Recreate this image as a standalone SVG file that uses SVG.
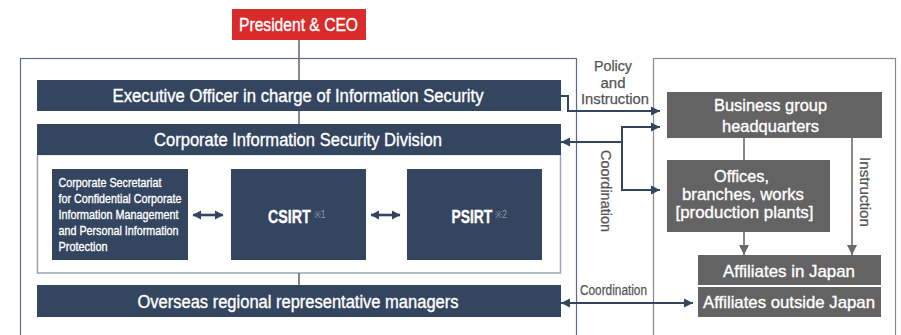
<svg xmlns="http://www.w3.org/2000/svg" width="901" height="335" viewBox="0 0 901 335">
<style>
text{font-family:"Liberation Sans Narrow","Liberation Sans",Arial,sans-serif;}
.w{fill:#ffffff;stroke:#ffffff;stroke-width:0.35;}
.g{fill:#555555;stroke:#555555;stroke-width:0.25;}
.sup{fill:#8f99ad;}
.navy{fill:#34455f;}
.grey{fill:#636363;}
.c{text-anchor:middle;}
.ln{fill:none;stroke:#34455f;stroke-width:2;}
.gl{fill:none;stroke:#6b6b6b;stroke-width:1.6;}
.dbl{fill:none;stroke:#34455f;stroke-width:2.6;}
</style>
<defs>
<marker id="an" markerUnits="userSpaceOnUse" markerWidth="10" markerHeight="10" refX="9" refY="5" orient="auto-start-reverse" viewBox="0 0 10 10"><path d="M0,0.5 L9,5 L0,9.5 z" fill="#34455f"/></marker>
<marker id="ag" markerUnits="userSpaceOnUse" markerWidth="11" markerHeight="11" refX="10" refY="5.5" orient="auto" viewBox="0 0 11 11"><path d="M0,0.5 L10,5.5 L0,10.5 z" fill="#6b6b6b"/></marker>
<marker id="ad" markerUnits="userSpaceOnUse" markerWidth="9" markerHeight="10" refX="8" refY="5" orient="auto-start-reverse" viewBox="0 0 9 10"><path d="M0,0.5 L8.5,5 L0,9.5 z" fill="#34455f"/></marker>
</defs>

<!-- frames -->
<rect x="20.5" y="58.5" width="556" height="290" fill="none" stroke="#5b6b88" stroke-width="1.2"/>
<rect x="653.5" y="58.5" width="242" height="290" fill="none" stroke="#8a8a8a" stroke-width="1.2"/>
<rect x="37.5" y="154.5" width="523" height="118.5" fill="#ffffff" stroke="#9aa5b5" stroke-width="1.5"/>

<!-- connectors -->
<g id="connectors">
<path class="gl" d="M299,40 V80"/>
<path class="gl" d="M299,111 V124"/>
<path class="gl" d="M299,273 V285"/>
<path class="ln" d="M561,96 H568 V111 H660" marker-end="url(#an)"/>
<path class="ln" d="M660,127 H622 V190 H660" marker-start="url(#an)" marker-end="url(#an)"/>
<path class="ln" d="M622,142 H561" marker-end="url(#an)"/>
<path class="ln" d="M561,303 H693" marker-start="url(#an)" marker-end="url(#an)"/>
<path class="dbl" d="M193,215 H223" marker-start="url(#ad)" marker-end="url(#ad)"/>
<path class="dbl" d="M371,215 H400" marker-start="url(#ad)" marker-end="url(#ad)"/>
<path class="gl" d="M744,138 V160"/>
<path class="gl" d="M744,232 V255" marker-end="url(#ag)"/>
<path class="gl" d="M852,138 V255" marker-end="url(#ag)"/>
<text class="g c" x="613" y="70.5" font-size="14" textLength="38" lengthAdjust="spacingAndGlyphs">Policy</text>
<text class="g c" x="613" y="87.5" font-size="14" textLength="25" lengthAdjust="spacingAndGlyphs">and</text>
<text class="g c" x="615" y="104" font-size="14" textLength="68" lengthAdjust="spacingAndGlyphs">Instruction</text>
<text class="g" transform="translate(601,150) rotate(90)" font-size="15" textLength="82" lengthAdjust="spacingAndGlyphs">Coordination</text>
<text class="g" transform="translate(860,157) rotate(90)" font-size="14" textLength="70" lengthAdjust="spacingAndGlyphs">Instruction</text>
<text class="g" x="580" y="295" font-size="14" textLength="67" lengthAdjust="spacingAndGlyphs">Coordination</text>
</g>

<g id="president">
<rect x="232" y="9" width="134" height="31" fill="#d92b2b"/>
<text class="w c" x="298.5" y="31" font-size="18" textLength="119" lengthAdjust="spacingAndGlyphs">President &amp; CEO</text>
</g>

<g id="exec">
<rect class="navy" x="37" y="80" width="524" height="31"/>
<text class="w c" x="298" y="102" font-size="18" textLength="371" lengthAdjust="spacingAndGlyphs">Executive Officer in charge of Information Security</text>
</g>

<g id="division">
<rect class="navy" x="37" y="124" width="524" height="31"/>
<text class="w c" x="298" y="146" font-size="18" textLength="288" lengthAdjust="spacingAndGlyphs">Corporate Information Security Division</text>
</g>

<g id="secretariat">
<rect class="navy" x="52" y="169" width="136" height="91"/>
<text class="w" font-size="13.5">
<tspan x="58.5" y="186.5" textLength="103" lengthAdjust="spacingAndGlyphs">Corporate Secretariat</tspan>
<tspan x="58.5" y="202.5" textLength="123" lengthAdjust="spacingAndGlyphs">for Confidential Corporate</tspan>
<tspan x="58.5" y="218.5" textLength="120" lengthAdjust="spacingAndGlyphs">Information Management</tspan>
<tspan x="58.5" y="234.5" textLength="120" lengthAdjust="spacingAndGlyphs">and Personal Information</tspan>
<tspan x="58.5" y="250.5" textLength="49" lengthAdjust="spacingAndGlyphs">Protection</tspan>
</text>
</g>

<g id="csirt">
<rect class="navy" x="231" y="169" width="135" height="91"/>
<text class="w" transform="translate(268,223) scale(0.79,1)" font-size="18" font-weight="bold">CSIRT</text>
<text class="sup" transform="translate(313.5,218) scale(0.85,1)" font-size="10">※1</text>
</g>

<g id="psirt">
<rect class="navy" x="407" y="169" width="135" height="91"/>
<text class="w" transform="translate(451.5,223) scale(0.77,1)" font-size="18" font-weight="bold">PSIRT</text>
<text class="sup" transform="translate(495,218) scale(0.85,1)" font-size="10">※2</text>
</g>

<g id="overseas">
<rect class="navy" x="37" y="285" width="524" height="32"/>
<text class="w c" x="298" y="307.5" font-size="18" textLength="321" lengthAdjust="spacingAndGlyphs">Overseas regional representative managers</text>
</g>

<g id="bghq">
<rect class="grey" x="667" y="92" width="215" height="46"/>
<text class="w c" x="770.5" y="110.5" font-size="17" textLength="113" lengthAdjust="spacingAndGlyphs">Business group</text>
<text class="w c" x="770.5" y="132" font-size="17" textLength="97" lengthAdjust="spacingAndGlyphs">headquarters</text>
</g>

<g id="offices">
<rect class="grey" x="667" y="160" width="163" height="72"/>
<text class="w c" x="741.5" y="182" font-size="17" textLength="55" lengthAdjust="spacingAndGlyphs">Offices,</text>
<text class="w c" x="743" y="200" font-size="17" textLength="122" lengthAdjust="spacingAndGlyphs">branches, works</text>
<text class="w c" x="744.5" y="218" font-size="17" textLength="138" lengthAdjust="spacingAndGlyphs">[production plants]</text>
</g>

<g id="aff-japan">
<rect class="grey" x="698" y="255" width="183" height="30"/>
<text class="w c" x="789" y="277" font-size="17" textLength="132" lengthAdjust="spacingAndGlyphs">Affiliates in Japan</text>
</g>

<g id="aff-outside">
<rect class="grey" x="698" y="287" width="183" height="30"/>
<text class="w c" x="789" y="307.5" font-size="17" textLength="172" lengthAdjust="spacingAndGlyphs">Affiliates outside Japan</text>
</g>
</svg>
